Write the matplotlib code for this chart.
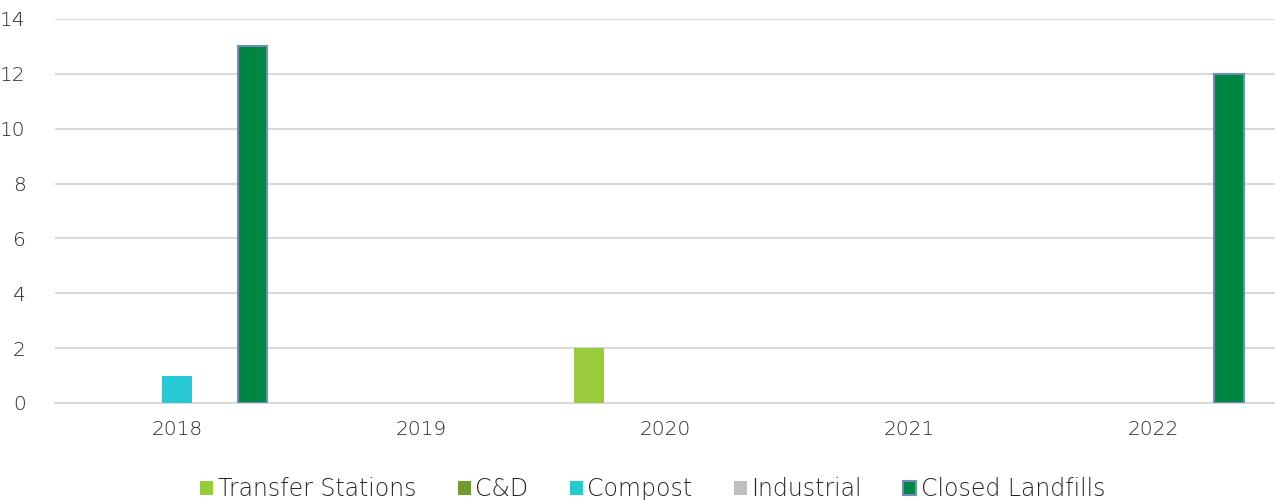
import matplotlib.pyplot as plt
import numpy as np

plt.rcParams['font.family'] = ['DejaVu Sans']
plt.rcParams['font.weight'] = 'light'

years = ['2018', '2019', '2020', '2021', '2022']
series = ['Transfer Stations', 'C&D', 'Compost', 'Industrial', 'Closed Landfills']
transfer_stations = [0, 0, 2, 0, 0]
c_and_d = [0, 0, 0, 0, 0]
compost = [1, 0, 0, 0, 0]
industrial = [0, 0, 0, 0, 0]
closed_landfills = [13, 0, 0, 0, 12]

valores = [transfer_stations, c_and_d, compost, industrial, closed_landfills]
cores = ['#99cc3d', '#739a2c', '#26c9d3', '#bfbfbf', '#008542']

fig = plt.figure(figsize=(12.75, 5), dpi=100)
ax = fig.add_axes([0.043, 0.194, 0.957, 0.768])

x = np.arange(len(years))
passo = 0.155
largura = 0.122
for i, (nome, v, c) in enumerate(zip(series, valores, cores)):
    if nome == 'Closed Landfills':
        # contorno só nas barras com valor
        lw = [1.5 if val > 0 else 0 for val in v]
        ax.bar(x + (i - 2) * passo, v, largura, color=c, label=nome,
               edgecolor='#6d8fb3', linewidth=lw, zorder=3)
    else:
        ax.bar(x + (i - 2) * passo, v, largura, color=c, label=nome, zorder=3)

ax.set_xlim(-0.5, 4.5)
ax.set_ylim(0, 14)
ax.set_yticks(range(0, 15, 2))
ax.set_xticks(x)
ax.set_xticklabels(years)
ax.grid(axis='y', color='#d9d9d9', linewidth=1.5, zorder=0)
for lado in ['top', 'right', 'left']:
    ax.spines[lado].set_visible(False)
ax.spines['bottom'].set_color('#d9d9d9')
ax.spines['bottom'].set_linewidth(1.5)
ax.tick_params(length=0, labelsize=14.5, colors='#262626', pad=12)
ax.tick_params(axis='y', pad=21)

leg = fig.legend(loc='lower center', ncol=5, frameon=False, fontsize=17,
                 handlelength=0.55, handleheight=0.55, handletextpad=0.2,
                 columnspacing=1.75, bbox_to_anchor=(0.512, -0.045),
                 labelcolor='#262626')
leg.legend_handles[4].set_linewidth(1.5)

plt.savefig('out.png', dpi=100)
